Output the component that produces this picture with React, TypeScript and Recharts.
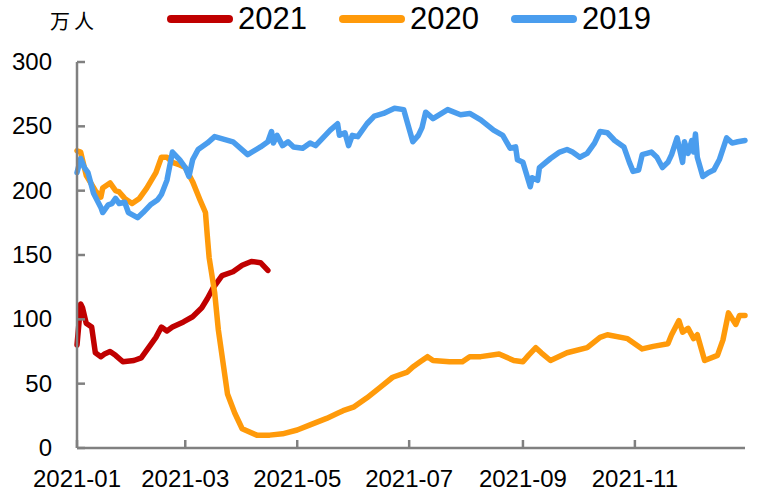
import { LineChart, Line, XAxis, YAxis } from "recharts";

// day of year 2021 (0 = Jan 1) and values in 万人
const days2021 = [0, 2, 3, 5, 8, 10, 13, 15, 18, 21, 25, 31, 35, 39, 43, 46, 49, 52, 58, 63, 68, 71, 74, 79, 85, 90, 95, 100, 104];
const values2021 = [80, 112, 109, 97, 94, 74, 71, 73, 75, 72, 67, 68, 70, 78, 86, 94, 91, 94, 98, 102, 109, 116, 124, 134, 137, 142, 145, 144, 138];

const days2020 = [
  0, 2, 3, 5, 10, 13, 14, 18, 21, 23, 26, 30, 34, 38, 43, 46, 49, 52, 56, 59,
  63, 67, 70, 71, 72, 75, 77, 80, 82, 86, 90, 98, 105, 112, 120, 127, 136, 142, 145,
  151, 158, 165, 172, 180, 183, 187, 191, 194, 203, 210, 214, 220, 230, 238, 243, 246,
  250, 253, 258, 267, 278, 285, 289, 300, 308, 314, 322, 324, 328, 330, 333, 336, 338,
  342, 349, 352, 355, 359, 361, 364,
];
const values2020 = [
  231, 230, 224, 212, 200, 195, 202, 206, 200, 199, 194, 190, 194, 202, 214, 226, 226, 222, 220, 218,
  207, 193, 183, 165, 148, 121, 92, 62, 42, 27, 15, 10, 10, 11, 14, 18, 23, 27, 29,
  32, 39, 47, 55, 59, 63, 67, 71, 68, 67, 67, 71, 71, 73, 68, 67, 72,
  78, 74, 68, 74, 78, 86, 88, 85, 77, 79, 81, 88, 99, 90, 93, 85, 88,
  68, 72, 84, 105, 96, 103, 103,
];

const days2019 = [
  0, 2, 4, 6, 9, 13, 14, 17, 19, 21, 23, 26, 28, 33, 36, 40, 44, 46, 49, 52,
  56, 59, 61, 63, 66, 71, 75, 85, 93, 100, 104, 106, 107, 109, 112, 115, 118, 123, 127, 130,
  134, 138, 142, 143, 146, 148, 150, 153, 158, 162, 167, 173, 178, 180, 183, 186, 188, 190, 194, 202,
  209, 214, 220, 227, 232, 236, 239, 240, 243, 247, 248, 251, 252, 258, 263, 267, 270, 274, 278, 282,
  285, 289, 293, 298, 301, 303, 306, 308, 313, 316, 319, 322, 324, 327, 330, 331, 333, 335, 336, 337,
  338, 341, 344, 347, 350, 354, 357, 360, 364,
];
const values2019 = [
  214, 225, 218, 214, 198, 187, 183, 189, 190, 194, 190, 191, 183, 179, 183, 189, 193, 197, 208, 230,
  224, 218, 211, 224, 232, 237, 242, 238, 228, 234, 238, 246, 237, 243, 235, 238, 234, 233, 237, 235,
  241, 247, 252, 243, 245, 235, 243, 242, 252, 258, 260, 264, 263, 253, 238, 243, 249, 261, 256, 263,
  259, 260, 255, 247, 243, 233, 234, 224, 222, 203, 210, 208, 218, 225, 230, 232, 230, 226, 229, 237,
  246, 245, 239, 234, 222, 215, 216, 228, 230, 226, 218, 222, 228, 241, 222, 238, 229, 239, 230, 244,
  226, 211, 214, 216, 224, 241, 237, 238, 239,
];

const tickDays = [0, 59, 120, 181, 243, 304];
const tickLabels = ["2021-01", "2021-03", "2021-05", "2021-07", "2021-09", "2021-11"];
const yTicks = [0, 50, 100, 150, 200, 250, 300];

const seriesNames = ["2021", "2020", "2019"];
const seriesColors = ["#C00000", "#FF9A0A", "#4A9DEE"];

const toPoints = (days: number[], values: number[]) =>
  days.map((day, i) => ({ day, value: values[i] }));

const series = [
  toPoints(days2021, values2021),
  toPoints(days2020, values2020),
  toPoints(days2019, values2019),
];

const FONT = "'Liberation Sans', Arial, sans-serif";
const AXIS = "#808080";

const YTick = (props: any) => {
  const { x, y, payload } = props;
  return (
    <g>
      <line x1={x + 25} x2={x + 33} y1={y} y2={y} stroke={AXIS} strokeWidth={2.5} />
      <text x={x} y={y + 8} textAnchor="end" fontSize={24} fontFamily={FONT} fill="#000">
        {payload.value}
      </text>
    </g>
  );
};

const XTick = (props: any) => {
  const { x, y, payload, index } = props;
  return (
    <g>
      <line x1={x} x2={x} y1={y} y2={y - 8} stroke={AXIS} strokeWidth={2.5} />
      <text x={x} y={y + 39} textAnchor="middle" fontSize={24} fontFamily={FONT} fill="#000">
        {tickLabels[tickDays.indexOf(payload.value)] ?? tickLabels[index]}
      </text>
    </g>
  );
};

export default function App() {
  return (
    <div
      style={{
        position: "absolute",
        left: 0,
        top: 0,
        width: 775,
        height: 501,
        background: "#fff",
        fontFamily: FONT,
      }}
    >
      <div
        style={{
          position: "absolute",
          left: 50,
          top: 6,
          fontSize: 20,
          letterSpacing: 4,
          fontFamily: "'Noto Sans CJK SC', sans-serif",
          color: "#000",
        }}
      >
        万人
      </div>
      <div style={{ position: "absolute", left: 167, top: 2, display: "flex", alignItems: "center" }}>
        {seriesNames.map((name, i) => (
          <div key={name} style={{ display: "flex", alignItems: "center", marginRight: 32 }}>
            <div style={{ width: 66, height: 8, borderRadius: 4, background: seriesColors[i] }} />
            <span style={{ marginLeft: 5, fontSize: 31, lineHeight: "34px", color: "#000" }}>{name}</span>
          </div>
        ))}
      </div>
      <LineChart width={775} height={501} margin={{ top: 62, right: 30, bottom: 23, left: 0 }}>
        <XAxis
          type="number"
          dataKey="day"
          domain={[0, 364]}
          ticks={tickDays}
          interval={0}
          height={30}
          tickSize={0}
          tickMargin={0}
          tickLine={false}
          tick={<XTick />}
          axisLine={{ stroke: AXIS, strokeWidth: 2.5 }}
        />
        <YAxis
          type="number"
          domain={[0, 300]}
          ticks={yTicks}
          interval={0}
          width={77}
          tickSize={0}
          tickMargin={25}
          tickLine={false}
          tick={<YTick />}
          axisLine={{ stroke: AXIS, strokeWidth: 2.5 }}
        />
        {series.map((data, i) => (
          <Line
            key={seriesNames[i]}
            data={data}
            dataKey="value"
            name={seriesNames[i]}
            type="linear"
            stroke={seriesColors[i]}
            strokeWidth={5.5}
            strokeLinejoin="round"
            strokeLinecap="round"
            dot={false}
            activeDot={false}
            isAnimationActive={false}
          />
        ))}
      </LineChart>
    </div>
  );
}
